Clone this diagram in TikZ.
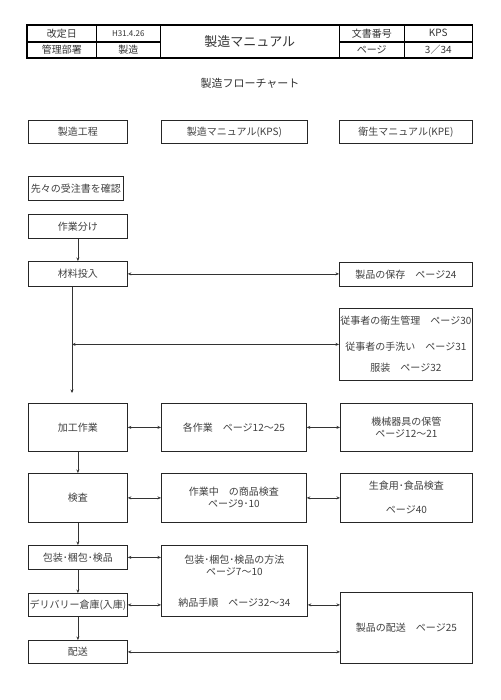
\documentclass[tikz,border=0pt]{standalone}
\usepackage{fontspec}
\setmainfont{Noto Sans CJK JP}
\usetikzlibrary{arrows.meta,positioning,calc}

\begin{document}
\begin{tikzpicture}[x=1pt, y=-1pt,
    cell/.style={rectangle, draw=black, line width=0.6pt, anchor=north west, inner sep=0pt, text=black!80, font=\fontsize{10}{12}\selectfont},
    box/.style={rectangle, draw=black!85, line width=0.8pt, anchor=north west, inner sep=0pt, align=center, text=black!75, font=\fontsize{10}{12}\selectfont},
    link/.style={line width=0.6pt, draw=black!80, -{Stealth[length=3.5pt,width=3pt]}},
    both/.style={line width=0.6pt, draw=black!80, {Stealth[length=3.5pt,width=3pt]}-{Stealth[length=3.5pt,width=3pt]}}
]
    \fill[white] (0,0) rectangle (500,700);
    \useasboundingbox (0,0) rectangle (500,700);

    % Header table
    \node[cell, minimum width=69pt, minimum height=16pt] (kaitei) at (27,25) {改定日};
    \node[cell, minimum width=64pt, minimum height=16pt, font=\fontsize{8}{10}\selectfont] (hiduke) at (96,25) {H31.4.26};
    \node[cell, minimum width=179pt, minimum height=32pt, font=\fontsize{13}{15}\selectfont] (manual) at (160,25) {製造マニュアル};
    \node[cell, minimum width=65pt, minimum height=16pt] (bunsho) at (339,25) {文書番号};
    \node[cell, minimum width=68pt, minimum height=16pt] (kps) at (404,25) {KPS};
    \node[cell, minimum width=69pt, minimum height=16pt, below=0pt of kaitei] (kanri) {管理部署};
    \node[cell, minimum width=64pt, minimum height=16pt, below=0pt of hiduke] (busho) {製造};
    \node[cell, minimum width=65pt, minimum height=16pt, below=0pt of bunsho] (page) {ページ};
    \node[cell, minimum width=68pt, minimum height=16pt, below=0pt of kps] (pageno) {3／34};
    \draw[line width=1.4pt] (kaitei.north west) rectangle (pageno.south east);

    % Title
    \node[text=black!80, font=\fontsize{11}{13}\selectfont] (title) at (250,83) {製造フローチャート};

    % Column heads
    \node[box, minimum width=99pt, minimum height=23pt] (koutei) at (28,120) {製造工程};
    \node[box, minimum width=146pt, minimum height=23pt] (kpsman) at (161,120) {製造マニュアル(KPS)};
    \node[box, minimum width=133pt, minimum height=23pt] (kpeman) at (339,120) {衛生マニュアル(KPE)};

    % Process steps
    \node[box, minimum width=95pt, minimum height=24pt] (kakunin) at (28,176) {先々の受注書を確認};
    \node[box, minimum width=99pt, minimum height=24pt] (bunke) at (28,214) {作業分け};
    \node[box, minimum width=99pt, minimum height=25pt] (tounyu) at (28,261) {材料投入};
    \node[box, minimum width=99pt, minimum height=48pt] (kakou) at (28,403) {加工作業};
    \node[box, minimum width=99pt, minimum height=49pt] (kensa) at (28,473) {検査};
    \node[box, minimum width=99pt, minimum height=24pt] (housou) at (28,545) {包装･梱包･検品};
    \node[box, minimum width=99pt, minimum height=23pt] (souko) at (28,593) {デリバリー倉庫(入庫)};
    \node[box, minimum width=99pt, minimum height=23pt] (haisou) at (28,640) {配送};

    % Manual references
    \node[box, minimum width=145pt, minimum height=48pt] (kakusagyou) at (161,403) {各作業　ページ12〜25};
    \node[box, minimum width=145pt, minimum height=49pt] (shohin) at (161,473) {作業中　の商品検査\\ページ9･10};
    \node[box, minimum width=146pt, minimum height=71pt] (houhou) at (161,545) {包装･梱包･検品の方法\\ページ7〜10\\[19pt]納品手順　ページ32〜34};

    % Hygiene references
    \node[box, minimum width=133pt, minimum height=24pt] (hozon) at (339,262) {製品の保存　ページ24};
    \node[box, minimum width=133pt, minimum height=72pt] (eisei) at (339,308) {従事者の衛生管理　ページ30\\[14pt]従事者の手洗い　ページ31\\[9pt]服装　ページ32};
    \node[box, minimum width=132pt, minimum height=48pt] (kikai) at (340,403) {機械器具の保管\\ページ12〜21};
    \node[box, minimum width=132pt, minimum height=49pt] (namashoku) at (340,473) {生食用･食品検査\\[12pt]ページ40};
    \node[box, minimum width=132pt, minimum height=71pt] (haisouref) at (340,592) {製品の配送　ページ25};

    % Main flow
    \coordinate (drop) at (72,393);
    \draw[link] (bunke) -- (tounyu);
    \draw[link] (tounyu.south -| drop) -- (drop);
    \draw[link] (kakou) -- (kensa);
    \draw[link] (kensa) -- (housou);
    \draw[link] (housou) -- (souko);
    \draw[link] (souko) -- (haisou);

    % Cross links
    \draw[both] (tounyu.east) -- (hozon.west |- tounyu.east);
    \draw[both] (drop |- eisei.west) -- (eisei.west);
    \draw[both] (kakou.east) -- (kakusagyou.west);
    \draw[both] (kakusagyou.east) -- (kikai.west);
    \draw[both] (kensa.east) -- (shohin.west);
    \draw[both] (shohin.east) -- (namashoku.west);
    \draw[both] (housou.east) -- (housou.east -| houhou.west);
    \draw[both] (souko.east) -- (souko.east -| houhou.west);
    \draw[both] (houhou.east |- souko.east) -- (haisouref.west |- souko.east);
    \draw[both] (haisou.east) -- (haisou.east -| haisouref.west);
\end{tikzpicture}
\end{document}
